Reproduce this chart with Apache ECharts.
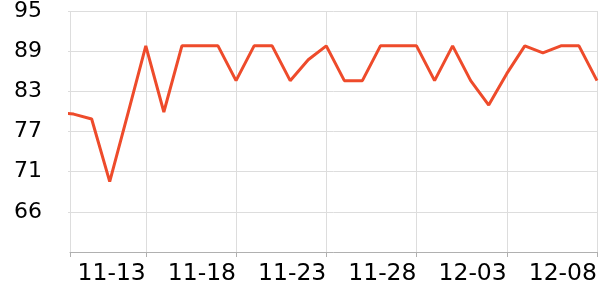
<!DOCTYPE html>
<html>
<head>
<meta charset="utf-8">
<script src="https://cdn.jsdelivr.net/npm/echarts@6/dist/echarts.min.js"></script>
<style>html,body{margin:0;padding:0;background:#fff}#c{width:600px;height:300px}</style>
</head>
<body>
<div id="c"></div>
<script>
// dates, index 0 = 11-08 (partly outside the visible window)
const dates = ['11-08','11-09','11-10','11-11','11-12','11-13','11-14','11-15','11-16','11-17',
  '11-18','11-19','11-20','11-21','11-22','11-23','11-24','11-25','11-26','11-27',
  '11-28','11-29','11-30','12-01','12-02','12-03','12-04','12-05','12-06','12-07','12-08'];
const values = [80.5, 80.2, 79.5, 70.5, 80.2, 90, 80.5, 90, 90, 90,
  85, 90, 90, 85, 88, 90, 85, 85, 90, 90,
  90, 85, 90, 85, 81.5, 86, 90, 89, 90, 90, 85];
const xTickLabels = ['11-13','11-18','11-23','11-28','12-03','12-08'];
const yMin = 60.4, yMax = 95;
const xMin = 0.8, xMax = 30;

const labelPos = xTickLabels.map(d => dates.indexOf(d));
const chart = echarts.init(document.getElementById('c'), null, {renderer: 'canvas'});
const FONT = 'DejaVu Sans';
chart.setOption({
  animation: false,
  grid: {left: 70, right: 2, top: 10, bottom: 48, containLabel: false},
  xAxis: {
    type: 'value', min: xMin, max: xMax,
    axisLine: {show: true, lineStyle: {color: '#b0b0b0', width: 1}},
    axisTick: {show: true, length: 5, lineStyle: {color: '#b0b0b0'}, customValues: [xMin].concat(labelPos)},
    splitLine: {show: true, lineStyle: {color: '#dddddd', width: 1}},
    axisLabel: {
      show: true, align: 'right', margin: 10,
      color: '#000', fontSize: 23.5, fontFamily: FONT,
      customValues: labelPos,
      formatter: function (v) { return dates[Math.round(v)] || ''; }
    }
  },
  yAxis: {
    type: 'value', min: yMin, max: yMax, interval: (yMax - yMin) / 6,
    axisLine: {show: false},
    axisTick: {show: true, length: 2, lineStyle: {color: '#dddddd'}},
    splitLine: {show: true, lineStyle: {color: '#dddddd', width: 1}},
    axisLabel: {
      show: true, showMinLabel: false, margin: 28,
      color: '#000', fontSize: 22, fontFamily: FONT,
      formatter: function (v) { return String(Math.floor(v + 1e-6)); }
    }
  },
  series: [{
    type: 'line',
    data: values.map((v, i) => [i, v]),
    showSymbol: false, symbol: 'none',
    lineStyle: {color: '#ee4b2b', width: 3},
    clip: true
  }]
});
</script>
</body>
</html>
